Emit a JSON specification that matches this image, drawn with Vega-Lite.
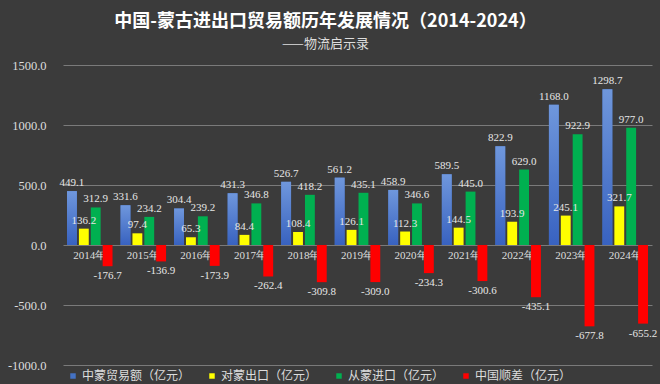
{
  "$schema": "https://vega.github.io/schema/vega-lite/v6.json",
  "width": 589,
  "height": 300,
  "autosize": "none",
  "padding": {"left": 63, "top": 65, "right": 8, "bottom": 19},
  "background": "#3b3b3b",
  "config": {
    "view": {"stroke": null},
    "font": "Noto Sans CJK SC",
    "locale": {"number": {"decimal": ".", "thousands": "", "grouping": [3], "currency": ["", ""], "minus": "-"}}
  },
  "title": {
    "text": "中国-蒙古进出口贸易额历年发展情况（2014-2024）",
    "subtitle": "——物流启示录",
    "anchor": "middle",
    "frame": "group",
    "dx": -32,
    "offset": 8,
    "fontSize": 18,
    "fontWeight": "bold",
    "color": "#ffffff",
    "subtitleColor": "#dddddd",
    "subtitleFontSize": 13,
    "subtitlePadding": 7
  },
  "data": {
    "values": [
      {"year": "2014年", "series": "中蒙贸易额（亿元）", "value": 449.1},
      {"year": "2014年", "series": "对蒙出口（亿元）", "value": 136.2},
      {"year": "2014年", "series": "从蒙进口（亿元）", "value": 312.9},
      {"year": "2014年", "series": "中国顺差（亿元）", "value": -176.7},
      {"year": "2015年", "series": "中蒙贸易额（亿元）", "value": 331.6},
      {"year": "2015年", "series": "对蒙出口（亿元）", "value": 97.4},
      {"year": "2015年", "series": "从蒙进口（亿元）", "value": 234.2},
      {"year": "2015年", "series": "中国顺差（亿元）", "value": -136.9},
      {"year": "2016年", "series": "中蒙贸易额（亿元）", "value": 304.4},
      {"year": "2016年", "series": "对蒙出口（亿元）", "value": 65.3},
      {"year": "2016年", "series": "从蒙进口（亿元）", "value": 239.2},
      {"year": "2016年", "series": "中国顺差（亿元）", "value": -173.9},
      {"year": "2017年", "series": "中蒙贸易额（亿元）", "value": 431.3},
      {"year": "2017年", "series": "对蒙出口（亿元）", "value": 84.4},
      {"year": "2017年", "series": "从蒙进口（亿元）", "value": 346.8},
      {"year": "2017年", "series": "中国顺差（亿元）", "value": -262.4},
      {"year": "2018年", "series": "中蒙贸易额（亿元）", "value": 526.7},
      {"year": "2018年", "series": "对蒙出口（亿元）", "value": 108.4},
      {"year": "2018年", "series": "从蒙进口（亿元）", "value": 418.2},
      {"year": "2018年", "series": "中国顺差（亿元）", "value": -309.8},
      {"year": "2019年", "series": "中蒙贸易额（亿元）", "value": 561.2},
      {"year": "2019年", "series": "对蒙出口（亿元）", "value": 126.1},
      {"year": "2019年", "series": "从蒙进口（亿元）", "value": 435.1},
      {"year": "2019年", "series": "中国顺差（亿元）", "value": -309.0},
      {"year": "2020年", "series": "中蒙贸易额（亿元）", "value": 458.9},
      {"year": "2020年", "series": "对蒙出口（亿元）", "value": 112.3},
      {"year": "2020年", "series": "从蒙进口（亿元）", "value": 346.6},
      {"year": "2020年", "series": "中国顺差（亿元）", "value": -234.3},
      {"year": "2021年", "series": "中蒙贸易额（亿元）", "value": 589.5},
      {"year": "2021年", "series": "对蒙出口（亿元）", "value": 144.5},
      {"year": "2021年", "series": "从蒙进口（亿元）", "value": 445.0},
      {"year": "2021年", "series": "中国顺差（亿元）", "value": -300.6},
      {"year": "2022年", "series": "中蒙贸易额（亿元）", "value": 822.9},
      {"year": "2022年", "series": "对蒙出口（亿元）", "value": 193.9},
      {"year": "2022年", "series": "从蒙进口（亿元）", "value": 629.0},
      {"year": "2022年", "series": "中国顺差（亿元）", "value": -435.1},
      {"year": "2023年", "series": "中蒙贸易额（亿元）", "value": 1168.0},
      {"year": "2023年", "series": "对蒙出口（亿元）", "value": 245.1},
      {"year": "2023年", "series": "从蒙进口（亿元）", "value": 922.9},
      {"year": "2023年", "series": "中国顺差（亿元）", "value": -677.8},
      {"year": "2024年", "series": "中蒙贸易额（亿元）", "value": 1298.7},
      {"year": "2024年", "series": "对蒙出口（亿元）", "value": 321.7},
      {"year": "2024年", "series": "从蒙进口（亿元）", "value": 977.0},
      {"year": "2024年", "series": "中国顺差（亿元）", "value": -655.2}
    ]
  },
  "encoding": {
    "x": {
      "field": "year",
      "type": "nominal",
      "sort": null,
      "scale": {"paddingInner": 0.15, "paddingOuter": 0.075},
      "axis": null
    },
    "y": {
      "field": "value",
      "type": "quantitative",
      "scale": {"domain": [-1000, 1500], "nice": false, "zero": false},
      "axis": {
        "title": null,
        "values": [-1000, -500, 0, 500, 1000, 1500],
        "format": ".1f",
        "labelFont": "Liberation Serif",
        "labelFontSize": 12.5,
        "labelColor": "#dddddd",
        "labelPadding": 17,
        "domain": false,
        "ticks": false,
        "grid": true,
        "gridColor": "#7a7a7a",
        "gridWidth": 1
      }
    }
  },
  "layer": [
    {
      "transform": [{"filter": "datum.series === '中蒙贸易额（亿元）'"}],
      "mark": {"type": "text", "font": "Liberation Serif", "fontSize": 11, "color": "#dddddd", "baseline": "top", "dy": 5},
      "encoding": {
        "y": {"datum": 0},
        "text": {"field": "year"}
      }
    },
    {
      "mark": {"type": "bar"},
      "encoding": {
        "xOffset": {
          "field": "series",
          "type": "nominal",
          "scale": {"domain": ["中蒙贸易额（亿元）", "对蒙出口（亿元）", "从蒙进口（亿元）", "中国顺差（亿元）"], "paddingInner": 0.17, "paddingOuter": 0}
        },
        "color": {
          "field": "series",
          "type": "nominal",
          "scale": {
            "domain": ["中蒙贸易额（亿元）", "对蒙出口（亿元）", "从蒙进口（亿元）", "中国顺差（亿元）"],
            "range": ["#4472C4", "#FFFF00", "#00B050", "#FF0000"]
          },
          "legend": {
            "orient": "none",
            "legendX": 4,
            "legendY": 305,
            "direction": "horizontal",
            "columns": 4,
            "gridAlign": "each",
            "columnPadding": 15,
            "title": null,
            "symbolType": "square",
            "symbolSize": 30,
            "symbolStrokeWidth": 0,
            "labelFontSize": 12,
            "labelOffset": 3,
            "labelColor": "#dddddd",
            "labelFont": "Noto Sans CJK SC"
          }
        }
      }
    },
    {
      "transform": [{"filter": "datum.series === '中蒙贸易额（亿元）'"}],
      "mark": {
        "type": "bar",
        "fill": {
          "gradient": "linear",
          "x1": 0, "y1": 0, "x2": 0, "y2": 1,
          "stops": [{"offset": 0, "color": "#6f97dc"}, {"offset": 1, "color": "#3862c0"}]
        }
      },
      "encoding": {
        "xOffset": {
          "field": "series",
          "type": "nominal",
          "scale": {"domain": ["中蒙贸易额（亿元）", "对蒙出口（亿元）", "从蒙进口（亿元）", "中国顺差（亿元）"], "paddingInner": 0.17, "paddingOuter": 0}
        }
      }
    },
    {
      "transform": [{"filter": "datum.value >= 0"}],
      "mark": {"type": "text", "font": "Liberation Serif", "fontSize": 11, "color": "#e6e6e6", "baseline": "bottom", "dy": -3},
      "encoding": {
        "xOffset": {
          "field": "series",
          "type": "nominal",
          "scale": {"domain": ["中蒙贸易额（亿元）", "对蒙出口（亿元）", "从蒙进口（亿元）", "中国顺差（亿元）"], "paddingInner": 0.17, "paddingOuter": 0}
        },
        "text": {"field": "value", "type": "quantitative", "format": ".1f"}
      }
    },
    {
      "transform": [{"filter": "datum.value < 0"}],
      "mark": {"type": "text", "font": "Liberation Serif", "fontSize": 11, "color": "#e6e6e6", "baseline": "top", "dy": 4},
      "encoding": {
        "xOffset": {
          "field": "series",
          "type": "nominal",
          "scale": {"domain": ["中蒙贸易额（亿元）", "对蒙出口（亿元）", "从蒙进口（亿元）", "中国顺差（亿元）"], "paddingInner": 0.17, "paddingOuter": 0}
        },
        "text": {"field": "value", "type": "quantitative", "format": ".1f"}
      }
    }
  ]
}
